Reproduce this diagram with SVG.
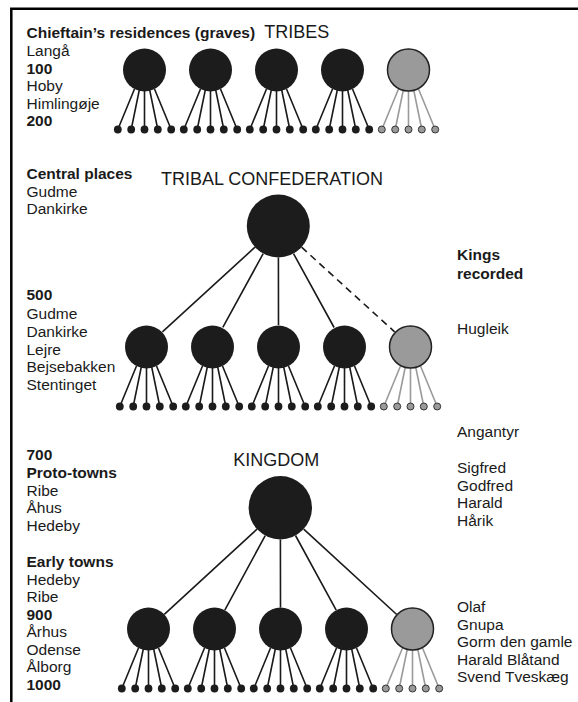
<svg xmlns="http://www.w3.org/2000/svg" xmlns:xlink="http://www.w3.org/1999/xlink" width="578" height="702" viewBox="0 0 578 702">
<style>
.t{font-family:"Liberation Sans",Arial,sans-serif;font-size:15.5px;fill:#1a1a1a}
.b{font-weight:bold}
.h{font-family:"Liberation Sans",Arial,sans-serif;font-size:18px;fill:#1a1a1a}
.blk{fill:#1c1c1c}
.gry{fill:#9a9a9a;stroke:#222;stroke-width:1.5}
.ln{stroke:#1a1a1a;stroke-width:1.6;fill:none}
.lg{stroke:#9a9a9a;stroke-width:1.6;fill:none}
.dash{stroke-dasharray:7 5}
.frame{stroke:#000;stroke-width:2.5;fill:none}
</style>
<defs>
<g id="fanB">
<path class="ln" d="M-10 19L-26.7 59.5M-5 19L-13.3 59.5M0 19V59.5M5 19L13.3 59.5M10 19L26.7 59.5"/>
<g class="blk"><circle cx="-26.7" cy="59.5" r="3.9"/><circle cx="-13.3" cy="59.5" r="3.9"/><circle cx="0" cy="59.5" r="3.9"/><circle cx="13.3" cy="59.5" r="3.9"/><circle cx="26.7" cy="59.5" r="3.9"/></g>
<circle class="blk" r="21.5"/>
</g>
<g id="fanG">
<path class="lg" d="M-10 19L-26.7 59.5M-5 19L-13.3 59.5M0 19V59.5M5 19L13.3 59.5M10 19L26.7 59.5"/>
<g fill="#9a9a9a" stroke="#333" stroke-width="1"><circle cx="-26.7" cy="59.5" r="3.5"/><circle cx="-13.3" cy="59.5" r="3.5"/><circle cx="0" cy="59.5" r="3.5"/><circle cx="13.3" cy="59.5" r="3.5"/><circle cx="26.7" cy="59.5" r="3.5"/></g>
<circle class="gry" r="21"/>
</g>
</defs>
<path class="frame" d="M11.3 702V8.7H578"/>
<g id="connectors">
<path class="ln" d="M255 247.2L162.4 331.8M263.2 253.6L222.8 327.4M278.4 257.5L278.5 325M293.5 253.6L334.1 327.5"/>
<path class="ln dash" d="M301.6 247.2L394.6 331.8"/>
<path class="ln" d="M257 529.2L164.3 614.4M265.2 535.6L224.8 610.1M280.4 539.4L280.5 607.5M295.5 535.5L336.2 610.1M303.7 529.1L396.7 614.5"/>
</g>
<g id="tribe1"><use xlink:href="#fanB" x="144.5" y="70"/></g>
<g id="tribe2"><use xlink:href="#fanB" x="210.5" y="70"/></g>
<g id="tribe3"><use xlink:href="#fanB" x="276.5" y="70"/></g>
<g id="tribe4"><use xlink:href="#fanB" x="342.5" y="70"/></g>
<g id="tribe5"><use xlink:href="#fanG" x="408.5" y="70"/></g>
<g id="confederation"><circle class="blk" cx="278.3" cy="226" r="31.5"/></g>
<g id="conf1"><use xlink:href="#fanB" x="146.5" y="347"/></g>
<g id="conf2"><use xlink:href="#fanB" x="212.5" y="347"/></g>
<g id="conf3"><use xlink:href="#fanB" x="278.5" y="347"/></g>
<g id="conf4"><use xlink:href="#fanB" x="344.5" y="347"/></g>
<g id="conf5"><use xlink:href="#fanG" x="410.5" y="347"/></g>
<g id="kingdom"><circle class="blk" cx="280.3" cy="507.7" r="31.7"/></g>
<g id="king1"><use xlink:href="#fanB" x="148.5" y="629"/></g>
<g id="king2"><use xlink:href="#fanB" x="214.5" y="629"/></g>
<g id="king3"><use xlink:href="#fanB" x="280.5" y="629"/></g>
<g id="king4"><use xlink:href="#fanB" x="346.5" y="629"/></g>
<g id="king5"><use xlink:href="#fanG" x="412.5" y="629"/></g>
<g id="titles">
<text class="h" x="264.3" y="38">TRIBES</text>
<text class="h" x="161" y="185">TRIBAL CONFEDERATION</text>
<text class="h" x="233.3" y="466">KINGDOM</text>
</g>
<g id="left-text">
<text class="t b" x="26.5" y="37.5">Chieftain’s residences (graves)</text>
<text class="t" x="26.5" y="56">Langå</text>
<text class="t b" x="26.5" y="73.5">100</text>
<text class="t" x="26.5" y="91">Hoby</text>
<text class="t" x="26.5" y="108.5">Himlingøje</text>
<text class="t b" x="26.5" y="126">200</text>
<text class="t b" x="26.5" y="178.5">Central places</text>
<text class="t" x="26.5" y="196.5">Gudme</text>
<text class="t" x="26.5" y="214">Dankirke</text>
<text class="t b" x="26.5" y="300">500</text>
<text class="t" x="26.5" y="318.5">Gudme</text>
<text class="t" x="26.5" y="336.5">Dankirke</text>
<text class="t" x="26.5" y="354.5">Lejre</text>
<text class="t" x="26.5" y="372">Bejsebakken</text>
<text class="t" x="26.5" y="389.5">Stentinget</text>
<text class="t b" x="26.5" y="460">700</text>
<text class="t b" x="26.5" y="477.5">Proto-towns</text>
<text class="t" x="26.5" y="495.5">Ribe</text>
<text class="t" x="26.5" y="513">Åhus</text>
<text class="t" x="26.5" y="530.5">Hedeby</text>
<text class="t b" x="26.5" y="567">Early towns</text>
<text class="t" x="26.5" y="584.5">Hedeby</text>
<text class="t" x="26.5" y="602">Ribe</text>
<text class="t b" x="26.5" y="619.5">900</text>
<text class="t" x="26.5" y="637">Århus</text>
<text class="t" x="26.5" y="654.5">Odense</text>
<text class="t" x="26.5" y="672">Ålborg</text>
<text class="t b" x="26.5" y="689.5">1000</text>
</g>
<g id="right-text">
<text class="t b" x="457" y="260">Kings</text>
<text class="t b" x="457" y="278.5">recorded</text>
<text class="t" x="457" y="334">Hugleik</text>
<text class="t" x="457" y="436.5">Angantyr</text>
<text class="t" x="457" y="473">Sigfred</text>
<text class="t" x="457" y="490.5">Godfred</text>
<text class="t" x="457" y="508">Harald</text>
<text class="t" x="457" y="525.5">Hårik</text>
<text class="t" x="457" y="612">Olaf</text>
<text class="t" x="457" y="629.5">Gnupa</text>
<text class="t" x="457" y="647">Gorm den gamle</text>
<text class="t" x="457" y="664.5">Harald Blåtand</text>
<text class="t" x="457" y="682">Svend Tveskæg</text>
</g>
</svg>
